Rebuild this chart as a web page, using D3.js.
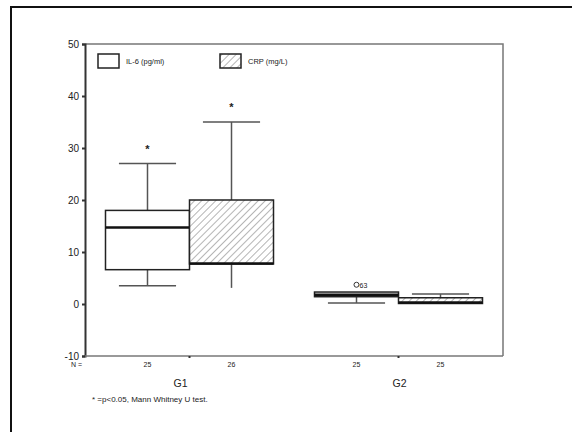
<!DOCTYPE html>
<html>
<head>
<meta charset="utf-8">
<script src="https://cdn.jsdelivr.net/npm/d3@7"></script>
<style>
  body { margin: 0; background: #fff; }
  text { font-family: "Liberation Sans", Arial, sans-serif; fill: #222; }
</style>
</head>
<body>
<div id="chart"></div>
<script>
// groups and series
const groups = ["G1", "G2"];
const series = ["IL-6", "CRP"];
const seriesLabels = ["IL-6 (pg/ml)", "CRP (mg/L)"];
const nLabels = [["25", "26"], ["25", "25"]];
// box stats per group, series order: [whiskerLow, q1, median, q3, whiskerHigh]
const g1Boxes = [[3.5, 6.6, 14.7, 18, 27], [3.1, 7.7, 7.8, 20, 35]];
const g2Boxes = [[0.2, 1.4, 1.8, 2.3, 2.3], [0.1, 0.1, 0.3, 1.2, 1.9]];
// extreme/outlier markers: [group, series, value, kind, label]
const outliers = [
  ["G1", "IL-6", 30, "*", ""],
  ["G1", "CRP", 38, "*", ""],
  ["G2", "IL-6", 3.7, "o", "63"]
];
const yTicks = [-10, 0, 10, 20, 30, 40, 50];

const W = 572, H = 432;
const margin = { top: 44, right: 69, bottom: 76, left: 85 };

const svg = d3.select("#chart").append("svg")
  .attr("width", W).attr("height", H);

// outer frame (cut by the page edges)
svg.append("path")
  .attr("d", `M11,${H + 5}V7H${W + 5}`)
  .attr("fill", "none").attr("stroke", "#111").attr("stroke-width", 2);

const y = d3.scaleLinear().domain([-10, 50]).range([H - margin.bottom, margin.top]);
const x0 = d3.scaleBand().domain(groups).range([margin.left, W - margin.right]);
const x1 = d3.scaleBand().domain(series).range([0, x0.bandwidth()]).paddingOuter(0.244);
const bw = x1.bandwidth();

const defs = svg.append("defs");
const pat = defs.append("pattern")
  .attr("id", "hatch").attr("patternUnits", "userSpaceOnUse")
  .attr("width", 5).attr("height", 5)
  .attr("patternTransform", "rotate(45)");
pat.append("rect").attr("width", 5).attr("height", 5).attr("fill", "#fff");
pat.append("line").attr("x1", 0).attr("y1", 0).attr("x2", 0).attr("y2", 5)
  .attr("stroke", "#777").attr("stroke-width", 1.1);

// plot frame (top and right)
svg.append("path")
  .attr("d", `M${margin.left},${y(50)}H${W - margin.right}V${y(-10)}`)
  .attr("fill", "none").attr("stroke", "#777").attr("stroke-width", 1.5);

// y axis
const yAxis = svg.append("g")
  .attr("transform", `translate(${margin.left},0)`)
  .call(d3.axisLeft(y).tickValues(yTicks).tickSize(3).tickPadding(3).tickFormat(d => String(d)));
yAxis.select(".domain").attr("stroke", "#333").attr("stroke-width", 2);
yAxis.selectAll(".tick line").attr("stroke", "#333").attr("stroke-width", 2);
yAxis.selectAll("text").attr("font-size", 10).style("font-family", "Liberation Sans, Arial, sans-serif");

// x axis
const xAxis = svg.append("g")
  .attr("transform", `translate(0,${y(-10)})`)
  .call(d3.axisBottom(x0).tickSize(2).tickFormat(""));
xAxis.select(".domain").attr("stroke", "#777").attr("stroke-width", 1.5)
  .attr("d", `M${margin.left},0H${W - margin.right}`);
xAxis.selectAll(".tick line").attr("stroke", "#333").attr("stroke-width", 2);

// N labels and group labels
const groupLabelShift = [-9, 1];
svg.append("text").attr("x", 82).attr("y", 367).attr("text-anchor", "end")
  .attr("font-size", 7).text("N =");
groups.forEach((g, gi) => {
  series.forEach((s, si) => {
    svg.append("text")
      .attr("x", x0(g) + x1(s) + bw / 2)
      .attr("y", 367).attr("text-anchor", "middle")
      .attr("font-size", 7).text(nLabels[gi][si]);
  });
  svg.append("text").attr("x", x0(g) + x0.bandwidth() / 2 + groupLabelShift[gi]).attr("y", 387)
    .attr("text-anchor", "middle").attr("font-size", 10.5).text(g);
});

svg.append("text").attr("x", 92).attr("y", 402).attr("font-size", 8)
  .text("* =p<0.05, Mann Whitney U test.");

// boxes
const boxData = [];
[g1Boxes, g2Boxes].forEach((b, gi) => {
  b.forEach((v, si) => boxData.push({ g: groups[gi], s: series[si], si, v }));
});

const box = svg.selectAll("g.box").data(boxData).enter().append("g").attr("class", "box")
  .attr("transform", d => `translate(${x0(d.g) + x1(d.s)},0)`);

box.append("line")
  .attr("x1", bw / 2).attr("x2", bw / 2)
  .attr("y1", d => y(d.v[3])).attr("y2", d => y(d.v[4]))
  .attr("stroke", "#555").attr("stroke-width", 1.5);
box.append("line")
  .attr("x1", bw / 2).attr("x2", bw / 2)
  .attr("y1", d => y(d.v[1])).attr("y2", d => y(d.v[0]))
  .attr("stroke", "#555").attr("stroke-width", 1.5);
box.filter(d => d.v[4] > d.v[3] + 0.3).append("line")
  .attr("x1", bw * 0.16).attr("x2", bw * 0.84)
  .attr("y1", d => y(d.v[4])).attr("y2", d => y(d.v[4]))
  .attr("stroke", "#555").attr("stroke-width", 1.5);
box.filter(d => d.s === "IL-6").append("line")
  .attr("x1", bw * 0.16).attr("x2", bw * 0.84)
  .attr("y1", d => y(d.v[0])).attr("y2", d => y(d.v[0]))
  .attr("stroke", "#555").attr("stroke-width", 1.5);

box.append("rect")
  .attr("x", 0).attr("width", bw)
  .attr("y", d => y(d.v[3])).attr("height", d => y(d.v[1]) - y(d.v[3]))
  .attr("fill", d => d.si === 1 ? "url(#hatch)" : "#fff")
  .attr("stroke", "#222").attr("stroke-width", 1.5);
box.append("line")
  .attr("x1", 0).attr("x2", bw)
  .attr("y1", d => y(d.v[2])).attr("y2", d => y(d.v[2]))
  .attr("stroke", "#111").attr("stroke-width", 2.5);

// outliers
outliers.forEach(([g, s, v, kind, lab]) => {
  const cx = x0(g) + x1(s) + bw / 2;
  if (kind === "*") {
    svg.append("text").attr("x", cx).attr("y", y(v) + 5).attr("text-anchor", "middle")
      .attr("font-size", 11).attr("font-weight", "bold").text("*");
  } else {
    svg.append("circle").attr("cx", cx).attr("cy", y(v)).attr("r", 2.5)
      .attr("fill", "none").attr("stroke", "#333").attr("stroke-width", 1);
    svg.append("text").attr("x", cx + 3).attr("y", y(v) + 3)
      .attr("font-size", 7).text(lab);
  }
});

// legend
const leg = svg.append("g");
series.forEach((s, i) => {
  const lx = [98, 220][i];
  leg.append("rect").attr("x", lx).attr("y", 54).attr("width", 21).attr("height", 14)
    .attr("fill", i === 1 ? "url(#hatch)" : "#fff").attr("stroke", "#222").attr("stroke-width", 1.5);
  leg.append("text").attr("x", lx + 28).attr("y", 64).attr("font-size", 7.5).text(seriesLabels[i]);
});
</script>
</body>
</html>
